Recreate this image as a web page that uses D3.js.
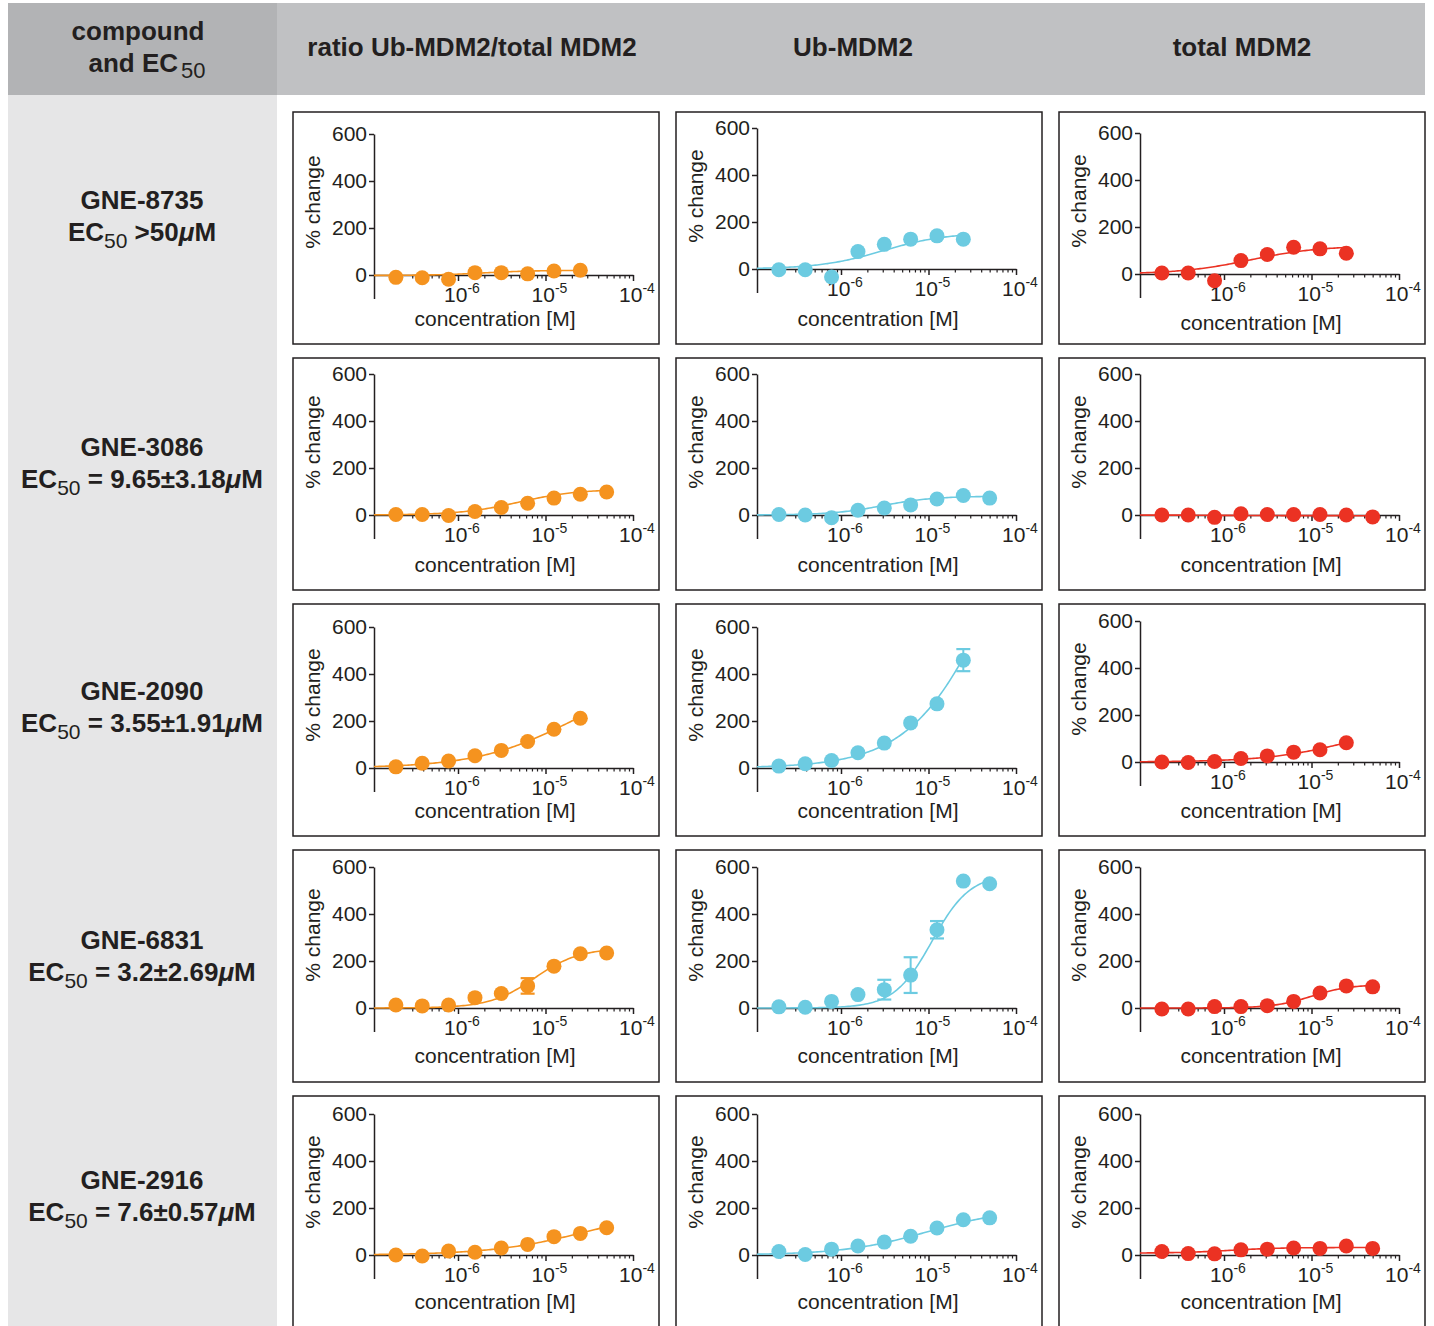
<!DOCTYPE html>
<html>
<head>
<meta charset="utf-8">
<script src="https://cdn.jsdelivr.net/npm/d3@7"></script>
<style>
  body { margin: 0; background: #fff; }
  svg { display: block; font-family: "Liberation Sans", Arial, Helvetica, sans-serif; }
</style>
</head>
<body>
<svg id="chart" width="1434" height="1326"></svg>
<script>
// ---- labels ----
const compounds = ["GNE-8735", "GNE-3086", "GNE-2090", "GNE-6831", "GNE-2916"];
const ec50Text = [" >50", " = 9.65±3.18", " = 3.55±1.91", " = 3.2±2.69", " = 7.6±0.57"];
const readouts = ["ratio Ub-MDM2/total MDM2", "Ub-MDM2", "total MDM2"];
const seriesColors = ["#f5931f", "#6ccbe1", "#eb3223"];
const yTicks = [0, 200, 400, 600];
const xDecades = [-6, -5, -4];

// ---- dilution series (µM) ----
const concentrationsUM = [0.195, 0.39, 0.78, 1.5625, 3.125, 6.25, 12.5, 25, 50];

// ---- % change, mean values ----
const ratio8735 = [-10, -12, -18, 10, 10, 5, 17, 20];
const ub8735    = [-3, -3, -34, 74, 105, 127, 141, 127];
const total8735 = [4, 4, -29, 57, 83, 114, 107, 88];

const ratio3086 = [2, 2, -2, 15, 32, 50, 72, 88, 98];
const ub3086    = [2, 0, -12, 20, 30, 43, 68, 83, 72];
const total3086 = [0, 0, -10, 5, 2, 2, 2, 0, -8];

const ratio2090 = [5, 20, 30, 52, 75, 113, 165, 212];
const ub2090    = [8, 18, 32, 65, 106, 192, 273, 459];
const total2090 = [0, -2, 2, 15, 26, 42, 52, 82];

const ratio6831 = [13, 9, 13, 44, 62, 94, 178, 231, 234];
const ub6831    = [5, 3, 28, 57, 78, 140, 333, 540, 529];
const total6831 = [-4, -4, 6, 6, 10, 28, 64, 94, 90];

const ratio2916 = [0, -4, 17, 12, 30, 45, 78, 92, 116];
const ub2916    = [15, 2, 25, 38, 55, 80, 115, 150, 158];
const total2916 = [15, 6, 5, 22, 25, 30, 28, 38, 28];

// ---- error bars (± SD), 0 = none drawn ----
const ub2090Err    = [0, 0, 0, 0, 0, 0, 0, 47];
const ratio6831Err = [0, 0, 0, 0, 0, 33, 0, 0, 0];
const ub6831Err    = [0, 0, 0, 0, 42, 76, 37, 0, 0];

// ---- four-parameter logistic fits: [bottom, top, EC50 (µM), Hill slope] ----
const fitRatio8735 = [-2, 20, 2, 1.5];
const fitUb8735    = [0, 155, 3, 1.2];
const fitTotal8735 = [0, 120, 2, 1.1];
const fitRatio3086 = [0, 110, 5, 1.3];
const fitUb3086    = [0, 80, 3, 1.5];
const fitTotal3086 = [0, -3, 1, 1];
const fitRatio2090 = [0, 400, 20, 0.8];
const fitUb2090    = [0, 1500, 60, 0.9];
const fitTotal2090 = [0, 180, 30, 0.9];
const fitRatio6831 = [0, 255, 7.5, 1.7];
const fitUb6831    = [0, 570, 11, 2];
const fitTotal6831 = [0, 100, 10, 2];
const fitRatio2916 = [0, 200, 30, 0.8];
const fitUb2916    = [0, 200, 10, 0.9];
const fitTotal2916 = [8, 32, 1.2, 1.5];

// grid of panels: rows = compounds, columns = readouts
const grid = [
  [[ratio8735, null, fitRatio8735], [ub8735, null, fitUb8735], [total8735, null, fitTotal8735]],
  [[ratio3086, null, fitRatio3086], [ub3086, null, fitUb3086], [total3086, null, fitTotal3086]],
  [[ratio2090, null, fitRatio2090], [ub2090, ub2090Err, fitUb2090], [total2090, null, fitTotal2090]],
  [[ratio6831, ratio6831Err, fitRatio6831], [ub6831, ub6831Err, fitUb6831], [total6831, null, fitTotal6831]],
  [[ratio2916, null, fitRatio2916], [ub2916, null, fitUb2916], [total2916, null, fitTotal2916]]
];

// ---- layout ----
const ink = "#231f20";
const panelLeft = [293, 676, 1059];
const panelTop0 = 112, rowPitch = 246, panelW = 366, panelH = 232;
const axisLeftOff = 81, axisRightOff = 340;
// vertical position of the zero line inside each panel
const zeroOffset = [[163, 157, 162], [157, 157, 157], [164, 164, 158], [158, 158, 158], [159, 159, 159]];
// baseline of the x-axis title inside each panel
const xTitleOffset = [[214, 214, 218], [214, 214, 214], [214, 214, 214], [213, 213, 213], [213, 213, 213]];
// baseline of the compound name inside each row
const nameOffset = [97, 98, 96, 99, 93];
const xMin = Math.pow(10, -6.96), xMax = 1e-4;

const svg = d3.select("#chart");

// header band and compound column
svg.append("rect").attr("x", 8).attr("y", 3).attr("width", 1417).attr("height", 92).attr("fill", "#c0c1c3");
svg.append("rect").attr("x", 8).attr("y", 3).attr("width", 269).attr("height", 92).attr("fill", "#b2b3b5");
svg.append("rect").attr("x", 8).attr("y", 95).attr("width", 269).attr("height", 1231).attr("fill", "#e6e6e7");

svg.append("text").attr("x", 138).attr("y", 40).attr("text-anchor", "middle")
  .attr("font-size", 26).attr("font-weight", "bold").attr("fill", ink).text("compound");
const hdr2 = svg.append("text").attr("x", 147).attr("y", 72).attr("text-anchor", "middle")
  .attr("font-size", 26).attr("font-weight", "bold").attr("fill", ink);
hdr2.append("tspan").text("and EC");
hdr2.append("tspan").attr("font-weight", "normal").attr("font-size", 22).attr("dy", 6).attr("dx", 3).text("50");

const colCenters = [472, 853, 1242];
readouts.forEach((t, i) => {
  svg.append("text").attr("x", colCenters[i]).attr("y", 56).attr("text-anchor", "middle")
    .attr("font-size", 26).attr("font-weight", "bold").attr("fill", ink).text(t);
});

// compound labels
compounds.forEach((name, r) => {
  const top = panelTop0 + r * rowPitch;
  const base = top + nameOffset[r];
  svg.append("text").attr("x", 142).attr("y", base).attr("text-anchor", "middle")
    .attr("font-size", 26).attr("font-weight", "bold").attr("fill", ink).text(name);
  const t = svg.append("text").attr("x", 142).attr("y", base + 32).attr("text-anchor", "middle")
    .attr("font-size", 26).attr("font-weight", "bold").attr("fill", ink);
  t.append("tspan").text("EC");
  t.append("tspan").attr("font-weight", "normal").attr("font-size", 21).attr("dy", 7).text("50");
  t.append("tspan").attr("dy", -7).text(ec50Text[r]);
  t.append("tspan").attr("font-style", "italic").text("μ");
  t.append("tspan").text("M");
});

// minor tick values of the log axis
const minorTicks = [];
for (let e = -7; e < -4; e++) {
  for (let m = 2; m <= 9; m++) {
    const v = m * Math.pow(10, e);
    if (v >= xMin && v <= xMax) minorTicks.push(v);
  }
}
const majorTicks = xDecades.map(e => Math.pow(10, e));

function logistic(p, xM) {
  const [bottom, top, ec50, hill] = p;
  return bottom + (top - bottom) / (1 + Math.pow(ec50 * 1e-6 / xM, hill));
}

function drawPanel(r, c) {
  const [values, errors, fit] = grid[r][c];
  const color = seriesColors[c];
  const left = panelLeft[c], top = panelTop0 + r * rowPitch;
  const y0 = top + zeroOffset[r][c];
  const g = svg.append("g");

  g.append("rect").attr("x", left).attr("y", top).attr("width", panelW).attr("height", panelH)
    .attr("fill", "#fff").attr("stroke", ink).attr("stroke-width", 1.5);

  const y = d3.scaleLinear().domain([-100, 600]).range([y0 + 23.5, y0 - 141]);
  const x = d3.scaleLog().domain([xMin, xMax]).range([left + axisLeftOff, left + axisRightOff]);

  // y axis
  const ya = g.append("g").attr("transform", `translate(${left + axisLeftOff},0)`)
    .call(d3.axisLeft(y).tickValues(yTicks).tickSize(5).tickSizeOuter(0).tickPadding(2));
  ya.select(".domain").attr("stroke", ink).attr("stroke-width", 1.5);
  ya.selectAll(".tick line").attr("stroke", ink).attr("stroke-width", 1.5);
  ya.selectAll(".tick text").attr("font-size", 21).attr("fill", ink)
    .attr("font-family", "'Liberation Sans', Arial, sans-serif");

  // x axis on the zero line
  const xa = g.append("g").attr("transform", `translate(0,${y(0)})`)
    .call(d3.axisBottom(x).tickValues(majorTicks).tickSize(6).tickSizeOuter(0).tickFormat(""));
  xa.select(".domain").attr("stroke", ink).attr("stroke-width", 1.5);
  xa.selectAll(".tick line").attr("stroke", ink).attr("stroke-width", 1.5);
  const xm = g.append("g").attr("transform", `translate(0,${y(0)})`)
    .call(d3.axisBottom(x).tickValues(minorTicks).tickSize(3.5).tickSizeOuter(0).tickFormat(""));
  xm.select(".domain").remove();
  xm.selectAll(".tick line").attr("stroke", ink).attr("stroke-width", 1.2);

  xDecades.forEach(e => {
    const t = g.append("text").attr("x", x(Math.pow(10, e)) + 4).attr("y", y(0) + 27)
      .attr("text-anchor", "middle").attr("font-size", 21).attr("fill", ink);
    t.append("tspan").text("10");
    t.append("tspan").attr("font-size", 14).attr("dy", -9).text(String(e));
  });

  g.append("text").attr("x", left + 202).attr("y", top + xTitleOffset[r][c]).attr("text-anchor", "middle")
    .attr("font-size", 21).attr("fill", ink).text("concentration [M]");
  g.append("text").attr("transform", `translate(${left + 27},${y0 - 73}) rotate(-90)`)
    .attr("text-anchor", "middle").attr("font-size", 21).attr("fill", ink).text("% change");

  // fitted curve from the axis start to the highest concentration
  const lastX = concentrationsUM[values.length - 1] * 1e-6;
  const lo = Math.log10(xMin), hi = Math.log10(lastX);
  const curvePts = d3.range(0, 121).map(i => {
    const xm2 = Math.pow(10, lo + (hi - lo) * i / 120);
    return [xm2, logistic(fit, xm2)];
  });
  g.append("path").datum(curvePts)
    .attr("d", d3.line().x(d => x(d[0])).y(d => y(d[1])))
    .attr("fill", "none").attr("stroke", color).attr("stroke-width", 1.6);

  const pts = values.map((v, i) => ({ c: concentrationsUM[i] * 1e-6, v, e: errors ? errors[i] : 0 }));

  // error bars
  pts.filter(d => d.e > 0).forEach(d => {
    const cx = x(d.c);
    g.append("line").attr("x1", cx).attr("x2", cx).attr("y1", y(d.v - d.e)).attr("y2", y(d.v + d.e))
      .attr("stroke", color).attr("stroke-width", 2);
    [d.v - d.e, d.v + d.e].forEach(yy => {
      g.append("line").attr("x1", cx - 7).attr("x2", cx + 7).attr("y1", y(yy)).attr("y2", y(yy))
        .attr("stroke", color).attr("stroke-width", 2.2);
    });
  });

  // data points
  g.selectAll("circle.pt").data(pts).enter().append("circle").attr("class", "pt")
    .attr("cx", d => x(d.c)).attr("cy", d => y(d.v)).attr("r", 7.5).attr("fill", color);
}

for (let r = 0; r < compounds.length; r++) {
  for (let c = 0; c < readouts.length; c++) drawPanel(r, c);
}
</script>
</body>
</html>
